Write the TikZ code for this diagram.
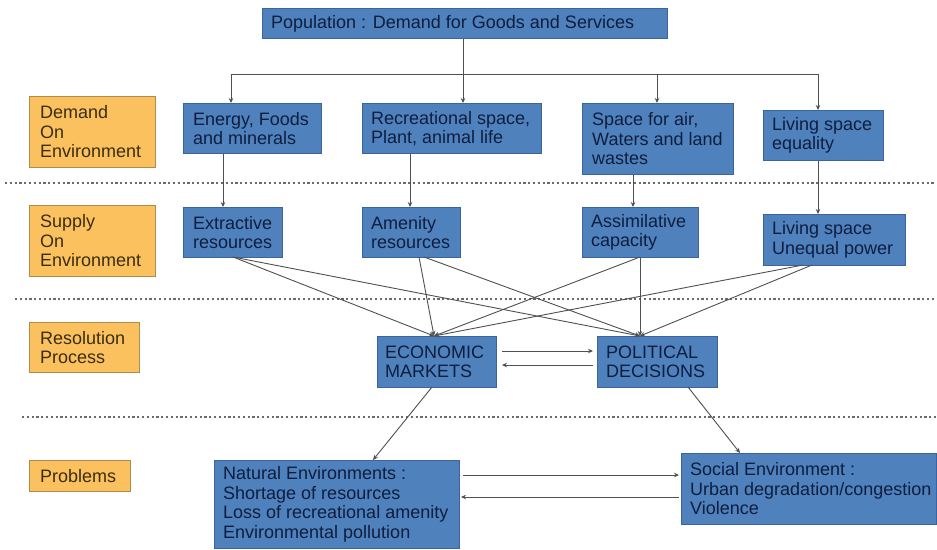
\documentclass[tikz,border=0pt]{standalone}
\usepackage{fontspec}
\setmainfont{Liberation Sans}
\usetikzlibrary{arrows.meta}
\definecolor{boxblue}{HTML}{4F81BD}
\definecolor{boxedge}{HTML}{3A64A0}
\definecolor{boxorange}{HTML}{FBC15E}
\definecolor{orangeedge}{HTML}{B08C4C}
\definecolor{navytext}{HTML}{0E1E3E}
\definecolor{browntext}{HTML}{3A2E10}
\definecolor{linegray}{HTML}{505050}
\tikzset{
  bluebox/.style={draw=boxedge, fill=boxblue, line width=1pt, inner sep=0pt},
  orangebox/.style={draw=orangeedge, fill=boxorange, line width=1pt, inner sep=0pt},
  txt/.style={align=left, inner sep=0pt, anchor=west, font=\fontsize{18}{19.5}\selectfont},
  bluetxt/.style={txt, text=navytext},
  orangetxt/.style={txt, text=browntext},
  arr/.style={draw=linegray, line width=0.9pt, -{Stealth[length=5pt,width=4.5pt]}},
  ln/.style={draw=linegray, line width=0.9pt},
  sep/.style={draw=linegray!85, line width=2.2pt, dash pattern=on 2.2pt off 2.6pt}
}
\newcommand{\bbox}[6]{%
  \node[#6, minimum width=#4pt-#2pt, minimum height=#5pt-#3pt, anchor=north west] (#1) at (#2,#3) {};}
\begin{document}
\begin{tikzpicture}[x=1pt,y=-1pt]
\useasboundingbox[fill=white] (0,0) rectangle (937,549);

% separators
\coordinate (s1a) at (5,183);  \coordinate (s1b) at (934,183);
\coordinate (s2a) at (15,299); \coordinate (s2b) at (937,299);
\coordinate (s3a) at (22,417); \coordinate (s3b) at (937,417);
\draw[sep] (s1a) -- (s1b);
\draw[sep] (s2a) -- (s2b);
\draw[sep] (s3a) -- (s3b);

% orange labels
\bbox{dem}{29}{96}{155}{167}{orangebox}
\node[orangetxt] (demt) at ([xshift=11pt]dem.west) {Demand\\On\\Environment};
\bbox{sup}{29}{205}{155}{276}{orangebox}
\node[orangetxt] (supt) at ([xshift=11pt]sup.west) {Supply\\On\\Environment};
\bbox{res}{29}{322}{139}{372}{orangebox}
\node[orangetxt] (rest) at ([xshift=11pt]res.west) {Resolution\\Process};
\bbox{prob}{29}{460}{130}{491}{orangebox}
\node[orangetxt] (probt) at ([xshift=11pt]prob.west) {Problems};

% blue boxes
\bbox{pop}{262}{8}{667}{38}{bluebox}
\node[bluetxt] (popt) at ([xshift=9pt]pop.west) {Population : Demand for Goods and Services};

\bbox{energy}{183}{103}{321}{153}{bluebox}
\node[bluetxt] (energyt) at ([xshift=10pt]energy.west) {Energy, Foods\\and minerals};
\bbox{recre}{362}{103}{541}{153}{bluebox}
\node[bluetxt] (recret) at ([xshift=9pt]recre.west) {Recreational space,\\Plant, animal life};
\bbox{space}{582}{103}{733}{174}{bluebox}
\node[bluetxt] (spacet) at ([xshift=10pt]space.west) {Space for air,\\Waters and land\\wastes};
\bbox{liv1}{763}{110}{883}{160}{bluebox}
\node[bluetxt] (liv1t) at ([xshift=9pt]liv1.west) {Living space\\equality};

\bbox{extr}{183}{207}{282}{257}{bluebox}
\node[bluetxt] (extrt) at ([xshift=10pt]extr.west) {Extractive\\resources};
\bbox{amen}{362}{207}{460}{257}{bluebox}
\node[bluetxt] (ament) at ([xshift=9pt]amen.west) {Amenity\\resources};
\bbox{assim}{582}{207}{698}{257}{bluebox}
\node[bluetxt] (assimt) at ([xshift=9pt]assim.west) {Assimilative\\capacity};
\bbox{liv2}{763}{214}{905}{265}{bluebox}
\node[bluetxt] (liv2t) at ([xshift=9pt]liv2.west) {Living space\\Unequal power};

\bbox{econ}{377}{336}{496}{387}{bluebox}
\node[bluetxt] (econt) at ([xshift=8pt]econ.west) {ECONOMIC\\MARKETS};
\bbox{polit}{597}{336}{717}{387}{bluebox}
\node[bluetxt] (politt) at ([xshift=9pt]polit.west) {POLITICAL\\DECISIONS};

\bbox{nat}{214}{460}{459}{548}{bluebox}
\node[bluetxt] (natt) at ([xshift=9pt]nat.west) {Natural Environments :\\Shortage of resources\\Loss of recreational amenity\\Environmental pollution};
\bbox{soc}{681}{453}{936}{524}{bluebox}
\node[bluetxt] (soct) at ([xshift=9pt]soc.west) {Social Environment :\\Urban degradation/congestion\\Violence};

% population distribution
\coordinate (hub) at (463,74);
\coordinate (hL) at (231,74);
\coordinate (hS) at (657,74);
\coordinate (hR) at (818,74);
\draw[arr] (hub |- pop.south) -- (hub |- recre.north);
\draw[ln] (hL) -- (hR);
\draw[arr] (hL) -- (hL |- energy.north);
\draw[arr] (hS) -- (hS |- space.north);
\draw[arr] (hR) -- (hR |- liv1.north);

% demand -> supply
\coordinate (v1) at (223,0);
\coordinate (v2) at (410,0);
\coordinate (v3) at (633,0);
\coordinate (v4) at (818,0);
\draw[arr] (v1 |- energy.south) -- (v1 |- extr.north);
\draw[arr] (v2 |- recre.south) -- (v2 |- amen.north);
\draw[arr] (v3 |- space.south) -- (v3 |- assim.north);
\draw[arr] (v4 |- liv1.south) -- (v4 |- liv2.north);

% supply -> resolution
\coordinate (eT) at (434,336);
\coordinate (pT) at (640,336);
\coordinate (xS) at (233,257);
\coordinate (aS1) at (419,257);
\coordinate (aS2) at (424,257);
\coordinate (cS) at (640,257);
\coordinate (lS1) at (803,265);
\coordinate (lS2) at (812,265);
\draw[arr] (xS) -- (eT);
\draw[arr] (xS) -- (pT);
\draw[arr] (aS1) -- (eT);
\draw[arr] (aS2) -- (pT);
\draw[arr] (cS) -- (eT);
\draw[arr] (cS) -- (pT);
\draw[arr] (lS1) -- (eT);
\draw[arr] (lS2) -- (pT);

% resolution exchange
\coordinate (ea) at (502,351); \coordinate (pa) at (593,351);
\coordinate (eb) at (502,365); \coordinate (pb) at (593,365);
\draw[arr] (ea) -- (pa);
\draw[arr] (pb) -- (eb);

% resolution -> problems
\coordinate (eo) at (432,387); \coordinate (ni) at (373,460);
\coordinate (po) at (688,387); \coordinate (si) at (740,453);
\draw[arr] (eo) -- (ni);
\draw[arr] (po) -- (si);

% problems exchange
\coordinate (na) at (463,475); \coordinate (sa) at (679,475);
\coordinate (sb) at (679,497); \coordinate (nb) at (461,497);
\draw[arr] (na) -- (sa);
\draw[arr] (sb) -- (nb);
\end{tikzpicture}
\end{document}
